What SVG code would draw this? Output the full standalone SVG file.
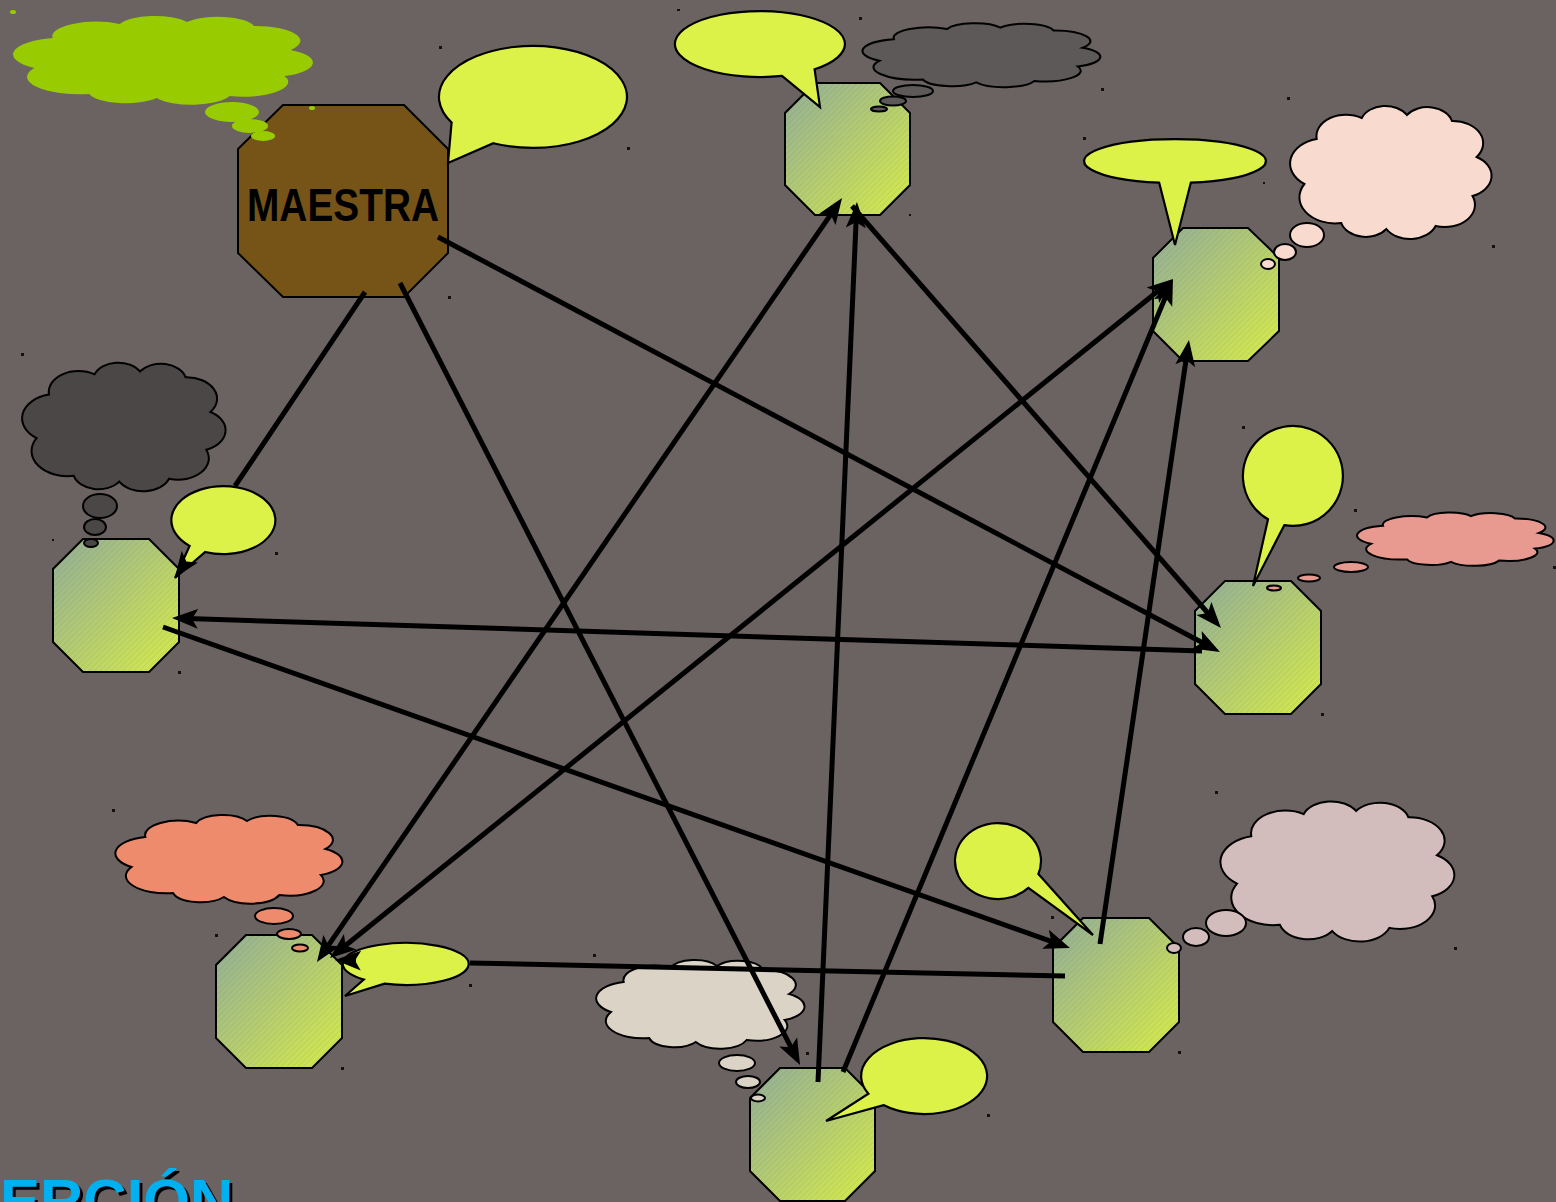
<svg xmlns="http://www.w3.org/2000/svg" xmlns:xlink="http://www.w3.org/1999/xlink" width="1556" height="1202" viewBox="0 0 1556 1202">
<style>
.oct{fill:url(#og);stroke:#000;stroke-width:2}
.hatch{fill:url(#hp);stroke:none}
.bub{fill:#DDF248;stroke:#000;stroke-width:2.2}
.cl{stroke:#000;stroke-width:2}
.conn{fill:none;stroke:#000;stroke-width:5}
.dot{fill:#111}
</style>
<defs>
<linearGradient id="og" x1="0" y1="0" x2="1" y2="1">
<stop offset="0" stop-color="#93AE9A"/>
<stop offset="1" stop-color="#D9EE4A"/>
</linearGradient>
<pattern id="hp" patternUnits="userSpaceOnUse" width="4" height="4" patternTransform="rotate(-45)">
<line x1="0" y1="1" x2="4" y2="1" stroke="#3a4a30" stroke-opacity="0.12" stroke-width="1"/>
</pattern>
<marker id="ah" viewBox="0 0 26 22" refX="18" refY="11" markerWidth="26" markerHeight="22" markerUnits="userSpaceOnUse" orient="auto-start-reverse">
<path d="M0,1 L26,11 L0,21 L6,11 Z" fill="#000"/>
</marker>
<path id="cloud" vector-effect="non-scaling-stroke" d="M8,58 A16.8,16.8 0 0 1 14,28 A14.4,14.4 0 0 1 36,14 A12.2,12.2 0 0 1 58,12 A12.3,12.3 0 0 1 80,16 A14.8,14.8 0 0 1 92,40 A14.4,14.4 0 0 1 90,66 A14.8,14.8 0 0 1 72,86 A13.3,13.3 0 0 1 48,88 A12.3,12.3 0 0 1 26,84 A17.4,17.4 0 0 1 8,58 Z"/>
</defs>
<rect x="0" y="0" width="1556" height="1202" fill="#6B6262"/>

<g id="dots">
<rect class="dot" x="439" y="46" width="3" height="3"/>
<rect class="dot" x="627" y="147" width="3" height="3"/>
<rect class="dot" x="859" y="17" width="3" height="3"/>
<rect class="dot" x="1101" y="88" width="3" height="3"/>
<rect class="dot" x="1287" y="97" width="3" height="3"/>
<rect class="dot" x="1083" y="137" width="3" height="3"/>
<rect class="dot" x="1492" y="245" width="3" height="3"/>
<rect class="dot" x="1263" y="182" width="2" height="2"/>
<rect class="dot" x="909" y="214" width="2" height="2"/>
<rect class="dot" x="448" y="296" width="3" height="3"/>
<rect class="dot" x="21" y="353" width="3" height="3"/>
<rect class="dot" x="52" y="539" width="2" height="2"/>
<rect class="dot" x="275" y="552" width="3" height="3"/>
<rect class="dot" x="1242" y="426" width="3" height="3"/>
<rect class="dot" x="1354" y="509" width="3" height="3"/>
<rect class="dot" x="1321" y="713" width="3" height="3"/>
<rect class="dot" x="1215" y="791" width="3" height="3"/>
<rect class="dot" x="1454" y="947" width="3" height="3"/>
<rect class="dot" x="1178" y="1051" width="3" height="3"/>
<rect class="dot" x="112" y="809" width="3" height="3"/>
<rect class="dot" x="215" y="934" width="3" height="3"/>
<rect class="dot" x="341" y="1067" width="3" height="3"/>
<rect class="dot" x="469" y="984" width="3" height="3"/>
<rect class="dot" x="593" y="954" width="3" height="3"/>
<rect class="dot" x="806" y="1052" width="3" height="3"/>
<rect class="dot" x="987" y="1114" width="3" height="3"/>
<rect class="dot" x="178" y="671" width="3" height="3"/>
<rect class="dot" x="1553" y="566" width="3" height="3"/>
<rect class="dot" x="1051" y="916" width="3" height="3"/>
<rect class="dot" x="677" y="9" width="3" height="2"/>
</g>

<g id="maestra">
<path d="M283,105 L404,105 L448,149 L448,253 L404,297 L283,297 L238,253 L238,149 Z" fill="#765418" stroke="#000" stroke-width="2"/>
<text x="343" y="221" text-anchor="middle" font-family="'Liberation Sans', Arial, sans-serif" font-weight="bold" font-size="47" textLength="192" lengthAdjust="spacingAndGlyphs" fill="#000">MAESTRA</text>
</g>

<g id="n1"><path class="oct" d="M815,83 L880,83 L910,113 L910,185 L880,215 L815,215 L785,185 L785,113 Z"/><path class="hatch" d="M815,83 L880,83 L910,113 L910,185 L880,215 L815,215 L785,185 L785,113 Z"/></g>
<g id="n2"><path class="oct" d="M1183,228 L1248,228 L1279,258 L1279,331 L1248,361 L1183,361 L1153,331 L1153,258 Z"/><path class="hatch" d="M1183,228 L1248,228 L1279,258 L1279,331 L1248,361 L1183,361 L1153,331 L1153,258 Z"/></g>
<g id="n3"><path class="oct" d="M1225,581 L1291,581 L1321,611 L1321,684 L1291,714 L1225,714 L1195,684 L1195,611 Z"/><path class="hatch" d="M1225,581 L1291,581 L1321,611 L1321,684 L1291,714 L1225,714 L1195,684 L1195,611 Z"/></g>
<g id="n4"><path class="oct" d="M1083,918 L1149,918 L1179,948 L1179,1022 L1149,1052 L1083,1052 L1053,1022 L1053,948 Z"/><path class="hatch" d="M1083,918 L1149,918 L1179,948 L1179,1022 L1149,1052 L1083,1052 L1053,1022 L1053,948 Z"/></g>
<g id="n5"><path class="oct" d="M780,1068 L845,1068 L875,1098 L875,1171 L845,1201 L780,1201 L750,1171 L750,1098 Z"/><path class="hatch" d="M780,1068 L845,1068 L875,1098 L875,1171 L845,1201 L780,1201 L750,1171 L750,1098 Z"/></g>
<g id="n6"><path class="oct" d="M246,935 L312,935 L342,965 L342,1038 L312,1068 L246,1068 L216,1038 L216,965 Z"/><path class="hatch" d="M246,935 L312,935 L342,965 L342,1038 L312,1068 L246,1068 L216,1038 L216,965 Z"/></g>
<g id="n7"><path class="oct" d="M83,539 L149,539 L179,569 L179,642 L149,672 L83,672 L53,642 L53,569 Z"/><path class="hatch" d="M83,539 L149,539 L179,569 L179,642 L149,672 L83,672 L53,642 L53,569 Z"/></g>

<g id="thoughts">
<g id="t0" fill="#99CC00">
<use xlink:href="#cloud" transform="translate(10,10) scale(3.05,1.0)"/>
<ellipse cx="232" cy="112" rx="27" ry="10"/>
<ellipse cx="250" cy="126" rx="18" ry="7"/>
<ellipse cx="263" cy="136" rx="12" ry="5"/>
<ellipse cx="13" cy="12" rx="3" ry="2"/>
<ellipse cx="312" cy="108" rx="3" ry="2"/>
</g>
<g id="t1" class="cl" fill="#5E5959">
<use xlink:href="#cloud" transform="translate(860,19) scale(2.42,0.72)"/>
<ellipse cx="913" cy="91" rx="20" ry="6"/>
<ellipse cx="893" cy="101" rx="13" ry="4.5"/>
<ellipse cx="879" cy="109" rx="8" ry="2.5"/>
</g>
<g id="t2" class="cl" fill="#F9DACE">
<use xlink:href="#cloud" transform="translate(1288,97) scale(2.05,1.5)"/>
<ellipse cx="1307" cy="235" rx="17" ry="12"/>
<ellipse cx="1285" cy="252" rx="11" ry="8"/>
<ellipse cx="1268" cy="264" rx="7" ry="5"/>
</g>
<g id="t3" class="cl" fill="#E89A90">
<use xlink:href="#cloud" transform="translate(1355,509) scale(2.0,0.6)"/>
<ellipse cx="1351" cy="567" rx="17" ry="5"/>
<ellipse cx="1309" cy="578" rx="11" ry="3.5"/>
<ellipse cx="1274" cy="588" rx="7" ry="2.5"/>
</g>
<g id="t4" class="cl" fill="#D2BCBC">
<use xlink:href="#cloud" transform="translate(1218,792) scale(2.38,1.58)"/>
<ellipse cx="1226" cy="923" rx="20" ry="13"/>
<ellipse cx="1196" cy="937" rx="13" ry="9"/>
<ellipse cx="1174" cy="948" rx="7" ry="5"/>
</g>
<g id="t5" class="cl" fill="#DBD4C6">
<use xlink:href="#cloud" transform="translate(594,954) scale(2.12,1.0)"/>
<ellipse cx="737" cy="1063" rx="18" ry="8"/>
<ellipse cx="748" cy="1082" rx="12" ry="6"/>
<ellipse cx="758" cy="1098" rx="7" ry="3.5"/>
</g>
<g id="t6" class="cl" fill="#EE8B6C">
<use xlink:href="#cloud" transform="translate(113,809) scale(2.31,1.0)"/>
<ellipse cx="274" cy="916" rx="19" ry="8"/>
<ellipse cx="289" cy="934" rx="12" ry="5"/>
<ellipse cx="300" cy="948" rx="8" ry="3.5"/>
</g>
<g id="t7" class="cl" fill="#4B4747">
<use xlink:href="#cloud" transform="translate(20,354) scale(2.07,1.45)"/>
<ellipse cx="100" cy="506" rx="17" ry="12"/>
<ellipse cx="95" cy="527" rx="11" ry="8"/>
<ellipse cx="91" cy="543" rx="7" ry="4"/>
</g>
</g>

<g id="speech">
<path id="b0" class="bub" d="M451.6,122.5 A94,51 0 1 1 493.3,143.2 L448,163 Z"/>
<path id="b1" class="bub" d="M782,75.9 A85,33 0 1 1 814.6,69.3 L820,107 Z"/>
<path id="b2" class="bub" d="M1159.2,182.7 A91,22 0 1 1 1190.8,182.7 L1175,245 Z"/>
<path id="b3" class="bub" d="M1268,519.3 A50,50 0 1 1 1284.3,525.2 L1253,586 Z"/>
<path id="b4" class="bub" d="M1028.4,887.9 A43,38 0 1 1 1038.4,874 L1093,935 Z"/>
<path id="b5" class="bub" d="M868.4,1093.8 A63,38 0 1 1 883.5,1105.1 L826,1121 Z"/>
<path id="b6" class="bub" d="M363.8,979.6 A63,21 0 1 1 384.5,983.7 L345,996 Z"/>
<path id="b7" class="bub" d="M189.6,546 A52,34 0 1 1 205.2,552 L175,578 Z"/>
</g>

<g id="connectors">
<path class="conn" marker-end="url(#ah)" d="M365,292 L235,486 M186,562 L179.4,571.3"/>
<path class="conn" marker-end="url(#ah)" d="M400,283 L796.4,1057.9"/>
<path class="conn" marker-end="url(#ah)" d="M438,237 L1212.9,648.2"/>
<path class="conn" marker-end="url(#ah)" d="M818,1082 L856.6,210"/>
<path class="conn" marker-end="url(#ah)" d="M843,1072 L1169.9,286.4"/>
<path class="conn" marker-end="url(#ah)" d="M1100,944 L1187.8,347.9"/>
<path class="conn" marker-end="url(#ah)" d="M1202,651 L180,618.3"/>
<path class="conn" marker-end="url(#ah)" d="M163,627 L1062.5,945.3"/>
<path class="conn" marker-end="url(#ah)" d="M1065,976 L470,963 M356,960.5 L343,960.2"/>
<path class="conn" marker-start="url(#ah)" marker-end="url(#ah)" d="M321.5,955.4 L837.5,204.6"/>
<path class="conn" marker-start="url(#ah)" marker-end="url(#ah)" d="M336.2,953 L1166.8,284"/>
<path class="conn" marker-end="url(#ah)" d="M852,206 L1215.7,622"/>
</g>

<g id="caption">
<text x="3" y="1224" font-family="'Liberation Sans', Arial, sans-serif" font-weight="bold" font-size="60" fill="#000">ERCIÓN</text>
<text x="0" y="1221" font-family="'Liberation Sans', Arial, sans-serif" font-weight="bold" font-size="60" fill="#00B0F0">ERCIÓN</text>
</g>
</svg>
